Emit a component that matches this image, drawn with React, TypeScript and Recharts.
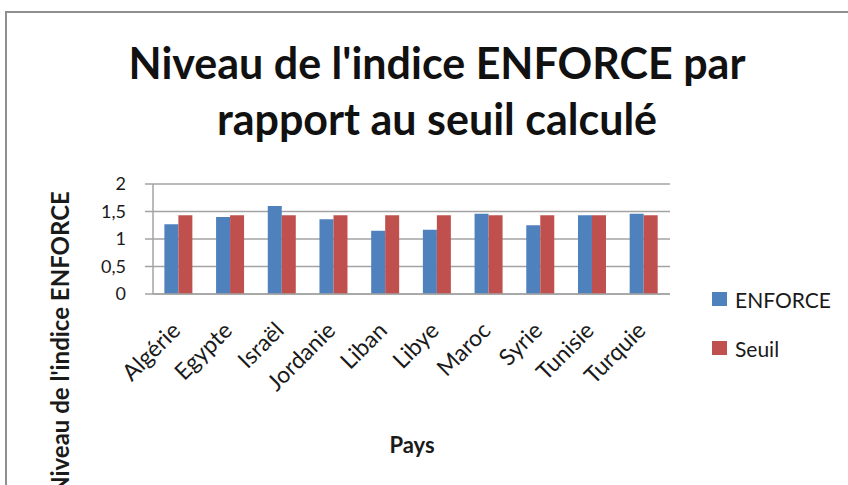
import React from "react";
import { BarChart, Bar, XAxis, YAxis, CartesianGrid } from "recharts";

const countries = ["Algérie", "Egypte", "Israël", "Jordanie", "Liban", "Libye", "Maroc", "Syrie", "Tunisie", "Turquie"];
const enforce = [1.27, 1.40, 1.60, 1.36, 1.15, 1.17, 1.46, 1.25, 1.43, 1.46];
const seuil = [1.43, 1.43, 1.43, 1.43, 1.43, 1.43, 1.43, 1.43, 1.43, 1.43];
const yTicks = [0, 0.5, 1, 1.5, 2];
const legendItems = ["ENFORCE", "Seuil"];

const data = countries.map((c, i) => ({ pays: c, ENFORCE: enforce[i], Seuil: seuil[i] }));

const FONT = "Lato, 'Open Sans', sans-serif";
const BLUE = "#4f81bd";
const RED = "#c0504d";
const GRID = "#a3a3a3";
const TEXT = "#1a1a1a";

function XTick({ x, y, payload }: any) {
  const ax = x + 3;
  const ay = y + 30;
  return (
    <text
      x={ax}
      y={ay}
      transform={`rotate(-45, ${ax}, ${ay})`}
      textAnchor="end"
      fontFamily={FONT}
      fontSize={23}
      fill={TEXT}
    >
      {payload.value}
    </text>
  );
}

export default function App() {
  const colors = [BLUE, RED];
  return (
    <div style={{ position: "absolute", left: 0, top: 0, width: 848, height: 485, overflow: "hidden", background: "#fff" }}>
      <div
        style={{
          position: "absolute",
          left: 5,
          top: 11,
          width: 900,
          height: 600,
          border: "2px solid #8f8f8f",
          boxSizing: "border-box",
        }}
      />
      <div
        style={{
          position: "absolute",
          left: 0,
          top: 35,
          width: 874,
          textAlign: "center",
          fontFamily: FONT,
          fontWeight: 700,
          fontSize: 43,
          lineHeight: "56px",
          color: "#111",
        }}
      >
        Niveau de l'indice ENFORCE par
        <br />
        rapport au seuil calculé
      </div>
      <div style={{ position: "absolute", left: 0, top: 0 }}>
        <BarChart
          width={848}
          height={485}
          data={data}
          margin={{ top: 184, right: 178, left: 0, bottom: 91 }}
          barGap={0}
          barCategoryGap="22%"
        >
          <CartesianGrid vertical={false} stroke={GRID} strokeWidth={1.5} />
          <XAxis
            dataKey="pays"
            interval={0}
            tickLine={false}
            axisLine={{ stroke: GRID, strokeWidth: 1.5 }}
            height={100}
            tick={<XTick />}
          />
          <YAxis
            width={153}
            domain={[0, 2]}
            ticks={yTicks}
            tickSize={8}
            tickMargin={19}
            tickLine={{ stroke: GRID, strokeWidth: 1.5 }}
            axisLine={{ stroke: GRID, strokeWidth: 1.5 }}
            tick={{ fontFamily: FONT, fontSize: 18, fill: TEXT }}
            tickFormatter={(v: number) => String(v).replace(".", ",")}
          />
          <Bar dataKey="ENFORCE" fill={BLUE} isAnimationActive={false} />
          <Bar dataKey="Seuil" fill={RED} isAnimationActive={false} />
        </BarChart>
      </div>
      <div style={{ position: "absolute", left: 712, top: 284, fontFamily: FONT, fontSize: 21, color: TEXT }}>
        {legendItems.map((label, i) => (
          <div key={label} style={{ display: "flex", alignItems: "center", height: 30, marginBottom: 19 }}>
            <span style={{ width: 15, height: 14, background: colors[i], marginRight: 8, display: "inline-block" }} />
            {label}
          </div>
        ))}
      </div>
      <div
        style={{
          position: "absolute",
          left: 59,
          top: 343,
          transform: "translate(-50%, -50%) rotate(-90deg)",
          whiteSpace: "nowrap",
          fontFamily: FONT,
          fontWeight: 700,
          fontSize: 24,
          color: TEXT,
        }}
      >
        Niveau de l'indice ENFORCE
      </div>
      <div
        style={{
          position: "absolute",
          left: 412,
          top: 444,
          transform: "translate(-50%, -50%)",
          fontFamily: FONT,
          fontWeight: 700,
          fontSize: 22,
          color: TEXT,
        }}
      >
        Pays
      </div>
    </div>
  );
}
